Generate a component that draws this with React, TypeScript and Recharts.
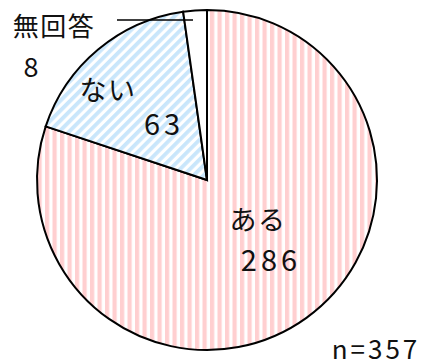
import { PieChart, Pie, Cell } from 'recharts';

const names = ['ある', 'ない', '無回答'];
const counts = [286, 63, 8];
const total = 'n=357';

const fills = ['url(#pinkStripe)', 'url(#blueStripe)', '#ffffff'];

// label positions (name centre, value centre) relative to the pie centre
const labelPos = [
  { nx: 51, ny: 38, vx: 64, vy: 78, size: 27, vsize: 29 },
  { nx: -99, ny: -92, vx: -43, vy: -58, size: 27, vsize: 29 },
  { nx: -153, ny: -156, vx: -174, vy: -115, size: 26, vsize: 27 },
];

const font = '"Noto Sans CJK JP", "Noto Sans", sans-serif';

const data = names.map((n, i) => ({ name: n, value: counts[i] }));

function renderLabel(props: any) {
  const { cx, cy, index } = props;
  const p = labelPos[index];
  const d = data[index];
  return (
    <g>
      {index === 2 && (
        <line x1={cx - 90} y1={cy - 160} x2={cx - 14} y2={cy - 160} stroke="#000" strokeWidth={1.5} />
      )}
      <text x={cx + p.nx} y={cy + p.ny} textAnchor="middle" dominantBaseline="central"
        fontSize={p.size} fontFamily={font} fill="#111" letterSpacing={1.5}>{d.name}</text>
      <text x={cx + p.vx} y={cy + p.vy} textAnchor="middle" dominantBaseline="central"
        fontSize={p.vsize} fontFamily={font} fill="#111" letterSpacing={4}>{d.value}</text>
    </g>
  );
}

export default function App() {
  return (
    <div style={{ position: 'absolute', left: 0, top: 0, width: 427, height: 364, background: '#fff' }}>
      <svg width={0} height={0} style={{ position: 'absolute' }}>
        <defs>
          <pattern id="pinkStripe" width={7.5} height={10} patternUnits="userSpaceOnUse">
            <rect width={7.5} height={10} fill="#fff" />
            <rect width={4.2} height={10} fill="#ffcfd0" />
          </pattern>
          <pattern id="blueStripe" width={7} height={7} patternUnits="userSpaceOnUse" patternTransform="rotate(45)">
            <rect width={7} height={7} fill="#fff" />
            <rect width={3.8} height={7} fill="#c9e6fb" />
          </pattern>
        </defs>
      </svg>
      <PieChart width={427} height={364} margin={{ top: 0, right: 0, bottom: 0, left: 0 }}>
        <Pie
          data={data}
          dataKey="value"
          nameKey="name"
          cx={207}
          cy={180}
          outerRadius={170}
          startAngle={90}
          endAngle={-270}
          stroke="#000"
          strokeWidth={2}
          label={renderLabel}
          labelLine={false}
          isAnimationActive={false}
        >
          {data.map((d, i) => (
            <Cell key={d.name} fill={fills[i]} />
          ))}
        </Pie>
        <text x={376} y={347} textAnchor="middle" dominantBaseline="central"
          fontSize={26} fontFamily={font} fill="#111" letterSpacing={3}>{total}</text>
      </PieChart>
    </div>
  );
}
